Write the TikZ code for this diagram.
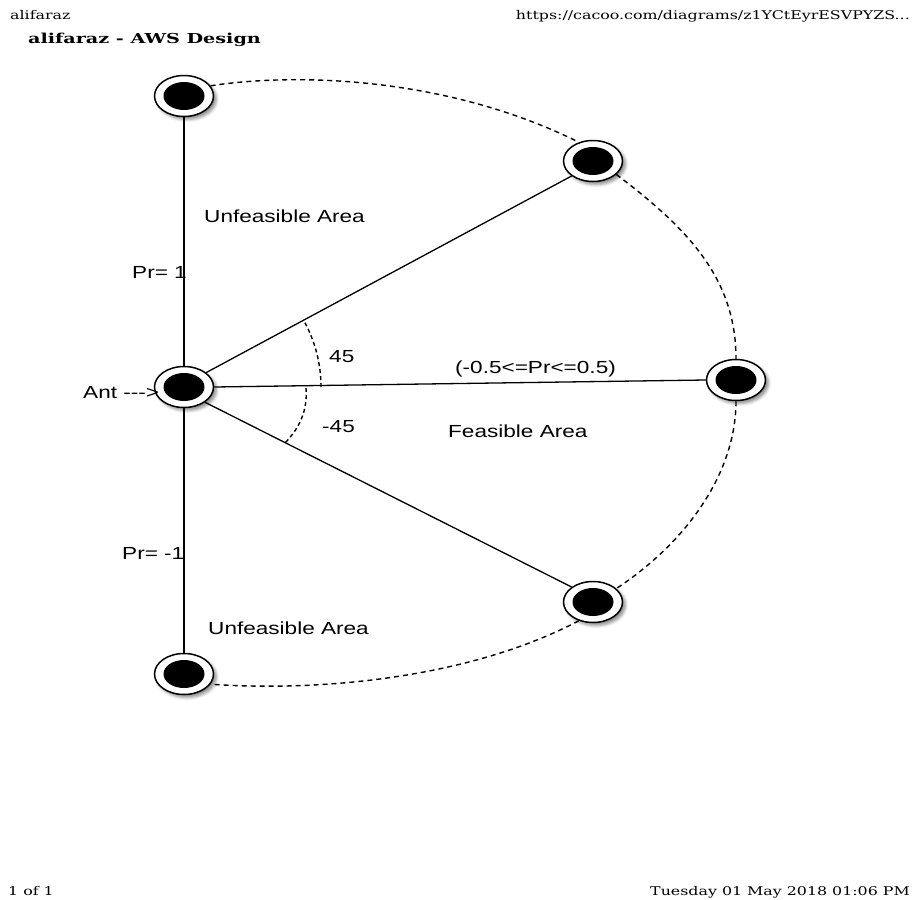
\documentclass[tikz,border=0pt]{standalone}
\usepackage{fontspec}
\usetikzlibrary{shapes.geometric,shadows.blur}
\newfontfamily\labelfont[FakeStretch=1.29]{Liberation Sans}
\newfontfamily\pagefont[FakeStretch=1.32]{DejaVu Serif}
\newfontfamily\titlefont[FakeStretch=1.4]{DejaVu Serif Bold}
\tikzset{
  antnode/.style={ellipse, draw=black, line width=1.5pt, fill=white,
    minimum width=59pt, minimum height=41pt, inner sep=0pt,
    blur shadow={shadow xshift=3pt, shadow yshift=-3pt, shadow blur radius=3pt, shadow opacity=45},
    path picture={\fill[black] (path picture bounding box.center) ellipse [x radius=20.5pt, y radius=14pt];}},
  rayline/.style={draw=black, line width=1.3pt},
  boundline/.style={draw=black, line width=1.4pt, dash pattern=on 5pt off 4pt},
  anglearc/.style={draw=black, line width=1.4pt, dash pattern=on 4pt off 3pt},
  lbl/.style={font=\labelfont\fontsize{17.5}{20}\selectfont, inner sep=0pt, anchor=base west},
  pagetext/.style={font=\pagefont\fontsize{12}{14}\selectfont, inner sep=0pt},
}
\begin{document}
\begin{tikzpicture}[x=1pt, y=-1pt]
\useasboundingbox (0,0) rectangle (914,900);

% page header and footer
\node[pagetext, anchor=base west] (user) at (10,19) {alifaraz};
\node[pagetext, anchor=base east] (url) at (910,19) {https://cacoo.com/diagrams/z1YCtEyrESVPYZS...};
\node[font=\titlefont\fontsize{13.7}{16}\selectfont, inner sep=0pt, anchor=base west] (title) at (28,43) {alifaraz - AWS Design};
\node[pagetext, anchor=base west] (pageno) at (8,895) {1 of 1};
\node[pagetext, anchor=base east] (date) at (910,895) {Tuesday 01 May 2018 01:06 PM};

% antenna positions
\node[antnode] (top) at (184,96) {};
\node[antnode] (ur) at (593,161) {};
\node[antnode] (ant) at (184,387) {};
\node[antnode] (right) at (736,380) {};
\node[antnode] (lr) at (593,602) {};
\node[antnode] (bottom) at (184,674) {};

% rays from the antenna
\draw[rayline] (top.south) -- (ant.north);
\draw[rayline] (ant.33) -- (ur.215);
\draw[rayline] (ant.east) -- (right.west);
\draw[rayline] (ant.-36) -- (lr.145);
\draw[rayline] (ant.south) -- (bottom.north);

% outer boundary
\draw[boundline] (top.21) .. controls (300,72) and (450,78) .. (ur.127);
\draw[boundline] (ur.-30) .. controls (690,230) and (736,280) .. (right.north);
\draw[boundline] (right.south) .. controls (736,470) and (690,540) .. (lr.30);
\draw[boundline] (lr.233) .. controls (470,678) and (320,692) .. (bottom.-21);

% angle markers
\draw[anglearc] (ant.center) ++(137,0) arc[start angle=0, end angle=-28, radius=137];
\draw[anglearc] (ant.center) ++(122,1) .. controls +(2,24) and +(14,-14) .. ++(-22,56);

% labels
\node[lbl] (ua1) at (204,222) {Unfeasible Area};
\node[lbl] (pr1) at (132,278) {Pr= 1};
\node[lbl] (a45) at (329,362) {45};
\node[lbl] (prr) at (455,373) {(-0.5<=Pr<=0.5)};
\node[lbl] (fa) at (448,437) {Feasible Area};
\node[lbl] (am45) at (322,432) {-45};
\node[lbl] (prm1) at (122,559) {Pr= -1};
\node[lbl] (ua2) at (208,634) {Unfeasible Area};
\node[lbl] (antlbl) at (83,398) {Ant ---{>}};
\end{tikzpicture}
\end{document}
